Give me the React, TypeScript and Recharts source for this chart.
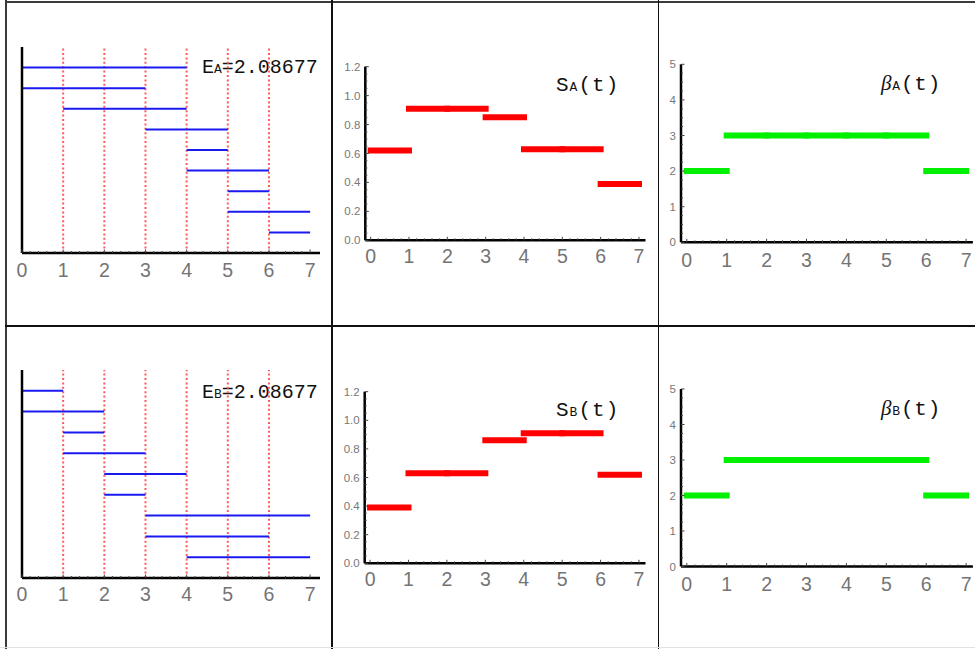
import React from 'react';
import { LineChart, Line, XAxis, YAxis, ReferenceLine } from 'recharts';

// ---------- data ----------
const xMajorTicks = [0, 1, 2, 3, 4, 5, 6, 7];
const xTickLabels = ['0', '1', '2', '3', '4', '5', '6', '7'];

// left panels: horizontal intervals, listed from the top level down
const levels = [9, 8, 7, 6, 5, 4, 3, 2, 1];
const intervalsA: [number, number][] = [[0, 4], [0, 3], [1, 4], [3, 5], [4, 5], [4, 6], [5, 6], [5, 7], [6, 7]];
const intervalsB: [number, number][] = [[0, 1], [0, 2], [1, 2], [1, 3], [2, 4], [2, 3], [3, 7], [3, 6], [4, 7]];
const dottedX = [1, 2, 3, 4, 5, 6];
const energyA = '2.08677';
const energyB = '2.08677';

// middle panels: S(t) per unit interval [t, t+1)
const sA = [0.62, 0.91, 0.91, 0.85, 0.63, 0.63, 0.39];
const sB = [0.39, 0.63, 0.63, 0.86, 0.91, 0.91, 0.62];
const sTicks = [0, 0.2, 0.4, 0.6, 0.8, 1.0, 1.2];
const sTickLabels = ['0.0', '0.2', '0.4', '0.6', '0.8', '1.0', '1.2'];

// right panels: beta(t) per unit interval
const betaA = [2, 3, 3, 3, 3, 3, 2];
const betaB = [2, 3, 3, 3, 3, 3, 2];
const betaTicks = [0, 1, 2, 3, 4, 5];
const betaTickLabels = ['0', '1', '2', '3', '4', '5'];

// ---------- helpers ----------
const subdivide = (major: number[], n: number) => {
  const out: number[] = [];
  for (let i = 0; i < major.length - 1; i++) {
    const step = (major[i + 1] - major[i]) / n;
    for (let k = 0; k < n; k++) out.push(+(major[i] + k * step).toFixed(4));
  }
  out.push(major[major.length - 1]);
  return out;
};

const isMajor = (v: number, majors: number[]) => majors.some((m) => Math.abs(m - v) < 1e-6);

const labelFont = '"Liberation Sans", Arial, sans-serif';
const monoFont = '"Liberation Mono", "DejaVu Sans Mono", monospace';

const makeXTick = (dy: number, withMinor: boolean) => (props: any) => {
  const { x, y, payload } = props;
  const v = payload.value;
  const major = isMajor(v, xMajorTicks);
  const idx = xMajorTicks.findIndex((m) => Math.abs(m - v) < 1e-6);
  return (
    <g>
      {withMinor && <line x1={x} x2={x} y1={y} y2={y - (major ? 3.5 : 2)} stroke="#444" strokeWidth={1} />}
      {major && (
        <text x={x} y={y + dy} textAnchor="middle" fontSize={19.5} fontFamily={labelFont} fill="#747474">
          {xTickLabels[idx]}
        </text>
      )}
    </g>
  );
};

const makeYTick = (majors: number[], labels: string[]) => (props: any) => {
  const { x, y, payload } = props;
  const v = payload.value;
  const idx = majors.findIndex((m) => Math.abs(m - v) < 1e-6);
  const major = idx >= 0;
  return (
    <g>
      <line x1={x} x2={x + (major ? 3.5 : 2)} y1={y} y2={y} stroke="#444" strokeWidth={1} />
      {major && (
        <text x={x - 5} y={y + 4} textAnchor="end" fontSize={11.5} fontFamily={labelFont} fill="#777">
          {labels[idx]}
        </text>
      )}
    </g>
  );
};

const axisLineStyle = { stroke: '#000', strokeWidth: 2.5 };

type Box = { left: number; top: number; width: number; height: number; margin: { top: number; right: number; bottom: number; left: number } };

// axes take 1px (axis must have a positive size to render), so subtract it from margins
const adj = (m: Box['margin']) => ({ top: m.top, right: m.right, bottom: m.bottom - 1, left: m.left - 1 });

// ---------- panels ----------
const LevelPanel = ({ box, intervals, letter, energy, labelDy }: { box: Box; intervals: [number, number][]; letter: string; energy: string; labelDy: number }) => (
  <div style={{ position: 'absolute', left: box.left, top: box.top, width: box.width, height: box.height }}>
    <LineChart width={box.width} height={box.height} margin={adj(box.margin)}>
      <XAxis
        type="number"
        dataKey="x"
        domain={[0, 7.24]}
        allowDataOverflow
        ticks={subdivide(xMajorTicks, 5)}
        interval={0}
        tickSize={0}
        tickMargin={0}
        tickLine={false}
        tick={makeXTick(labelDy, true)}
        height={1}
        axisLine={axisLineStyle}
      />
      <YAxis type="number" dataKey="y" domain={[0, 10]} allowDataOverflow width={1} tick={false} tickLine={false} axisLine={axisLineStyle} />
      {dottedX.map((d) => (
        <ReferenceLine key={'d' + d} x={d} stroke="#ff5a5a" strokeWidth={2} strokeDasharray="2 2.4" />
      ))}
      {intervals.map((iv, i) => (
        <Line
          key={'s' + i}
          data={[{ x: iv[0], y: levels[i] }, { x: iv[1], y: levels[i] }]}
          dataKey="y"
          stroke="#1a1af0"
          strokeWidth={2}
          dot={false}
          activeDot={false}
          isAnimationActive={false}
        />
      ))}
      <text x={202} y={73} fontFamily={monoFont} fontSize={20} fill="#111">
        E<tspan fontSize={13}>{letter}</tspan>={energy}
      </text>
    </LineChart>
  </div>
);

const StepPanel = ({
  box, values, color, yDomain, majors, labels, xDomain, labelDy, title,
}: {
  box: Box; values: number[]; color: string; yDomain: [number, number]; majors: number[]; labels: string[]; xDomain: [number, number]; labelDy: number; title: React.ReactNode;
}) => (
  <div style={{ position: 'absolute', left: box.left, top: box.top, width: box.width, height: box.height }}>
    <LineChart width={box.width} height={box.height} margin={adj(box.margin)}>
      <XAxis
        type="number"
        dataKey="x"
        domain={xDomain}
        allowDataOverflow
        ticks={subdivide(xMajorTicks, 5)}
        interval={0}
        tickSize={0}
        tickMargin={0}
        tickLine={false}
        tick={makeXTick(labelDy, true)}
        height={1}
        axisLine={axisLineStyle}
      />
      <YAxis
        type="number"
        dataKey="y"
        domain={yDomain}
        allowDataOverflow
        ticks={subdivide(majors, 4)}
        interval={0}
        tickSize={0}
        tickMargin={0}
        tickLine={false}
        tick={makeYTick(majors, labels)}
        width={1}
        axisLine={axisLineStyle}
      />
      {values.map((v, i) => (
        <Line
          key={'v' + i}
          data={[{ x: xMajorTicks[i], y: v }, { x: xMajorTicks[i + 1], y: v }]}
          dataKey="y"
          stroke={color}
          strokeWidth={6}
          strokeLinecap="square"
          dot={false}
          activeDot={false}
          isAnimationActive={false}
        />
      ))}
      {title}
    </LineChart>
  </div>
);

const sTitle = (letter: string) => (
  <text x={224} y={91} fontFamily={monoFont} fontSize={21} fill="#111" letterSpacing={1}>
    S<tspan fontSize={13}>{letter}</tspan>(t)
  </text>
);
const betaTitle = (letter: string) => (
  <text x={223} y={90} fontSize={21} fill="#111" letterSpacing={0.8}>
    <tspan fontFamily='"Liberation Serif", "Times New Roman", serif' fontStyle="italic">β</tspan>
    <tspan fontFamily={monoFont} fontSize={13}>{letter}</tspan>
    <tspan fontFamily={monoFont}>(t)</tspan>
  </text>
);

const boxes: Record<string, Box> = {
  p1: { left: 0, top: 0, width: 332, height: 325, margin: { top: 47, right: 12, bottom: 72, left: 22 } },
  p4: { left: 0, top: 325, width: 332, height: 324, margin: { top: 45, right: 12, bottom: 71, left: 22 } },
  p2: { left: 332, top: 0, width: 326, height: 325, margin: { top: 66.7, right: 12.5, bottom: 84.7, left: 33.3 } },
  p5: { left: 332, top: 325, width: 326, height: 324, margin: { top: 66.7, right: 12.5, bottom: 85.7, left: 32.7 } },
  p3: { left: 658, top: 0, width: 317, height: 325, margin: { top: 64.3, right: 2.1, bottom: 82.7, left: 23 } },
  p6: { left: 658, top: 325, width: 317, height: 324, margin: { top: 64, right: 2.1, bottom: 82.5, left: 23 } },
};

export default function App() {
  return (
    <div style={{ position: 'absolute', left: 0, top: 0, width: 975, height: 649, overflow: 'hidden', background: '#fff' }}>
      <LevelPanel box={boxes.p1} intervals={intervalsA} letter="A" energy={energyA} labelDy={24} />
      <LevelPanel box={boxes.p4} intervals={intervalsB} letter="B" energy={energyB} labelDy={23} />
      <StepPanel box={boxes.p2} values={sA} color="#ff0000" yDomain={[0, 1.2]} majors={sTicks} labels={sTickLabels} xDomain={[-0.14, 7.17]} labelDy={23} title={sTitle('A')} />
      <StepPanel box={boxes.p5} values={sB} color="#ff0000" yDomain={[0, 1.2]} majors={sTicks} labels={sTickLabels} xDomain={[-0.14, 7.17]} labelDy={23} title={sTitle('B')} />
      <StepPanel box={boxes.p3} values={betaA} color="#00f000" yDomain={[0, 5]} majors={betaTicks} labels={betaTickLabels} xDomain={[-0.145, 7.17]} labelDy={24.5} title={betaTitle('A')} />
      <StepPanel box={boxes.p6} values={betaB} color="#00f000" yDomain={[0, 5]} majors={betaTicks} labels={betaTickLabels} xDomain={[-0.145, 7.17]} labelDy={24.5} title={betaTitle('B')} />
      {/* table borders */}
      <div style={{ position: 'absolute', left: 5, top: 0, width: 2, height: 649, background: '#3a3a3a' }} />
      <div style={{ position: 'absolute', left: 5, top: 1, width: 970, height: 2, background: '#3a3a3a' }} />
      <div style={{ position: 'absolute', left: 331, top: 0, width: 2, height: 649, background: '#111' }} />
      <div style={{ position: 'absolute', left: 657.5, top: 0, width: 1.5, height: 649, background: '#111' }} />
      <div style={{ position: 'absolute', left: 5, top: 325, width: 970, height: 1.5, background: '#111' }} />
      <div style={{ position: 'absolute', left: 0, top: 647, width: 975, height: 1, background: '#e2e2e2' }} />
    </div>
  );
}
